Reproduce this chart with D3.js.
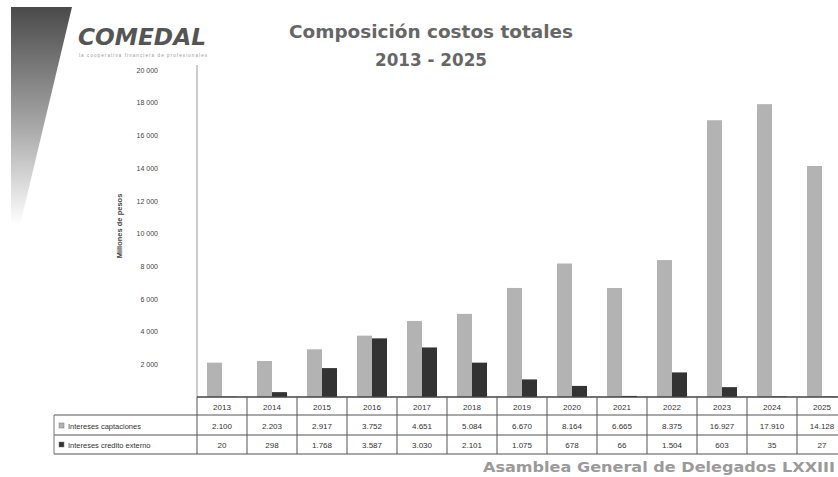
<!DOCTYPE html>
<html><head><meta charset="utf-8">
<script src="https://cdn.jsdelivr.net/npm/d3@7"></script>
<style>html,body{margin:0;padding:0;background:#fff;overflow:hidden}</style>
</head><body>
<svg id="c" width="838" height="477"></svg>
<script>
const years = ["2013","2014","2015","2016","2017","2018","2019","2020","2021","2022","2023","2024","2025"];
const captaciones = [2100,2203,2917,3752,4651,5084,6670,8164,6665,8375,16927,17910,14128];
const credito = [20,298,1768,3587,3030,2101,1075,678,66,1504,603,35,27];
const seriesNames = ["Intereses captaciones","Intereses credito externo"];
const yTicks = [2000,4000,6000,8000,10000,12000,14000,16000,18000,20000];

const svg = d3.select("#c");
const fmt = v => d3.format(",")(v).replace(/,/g,".");
const fmtTick = v => d3.format(",")(v).replace(/,/g," ");

// logo gradient shape
const defs = svg.append("defs");
const g1 = defs.append("linearGradient").attr("id","lg").attr("x1",0).attr("y1",0).attr("x2",0).attr("y2",1);
g1.append("stop").attr("offset","0%").attr("stop-color","#4a4a4a");
g1.append("stop").attr("offset","55%").attr("stop-color","#a8a8a8");
g1.append("stop").attr("offset","100%").attr("stop-color","#ffffff");
svg.append("path").attr("d","M11,7 L72,7 L20,225 L11,225 Z").attr("fill","url(#lg)");

svg.append("text").attr("x",78).attr("y",45).attr("font-family","DejaVu Sans")
  .attr("font-weight","bold").attr("font-style","italic").attr("font-size",23)
  .attr("fill","#555").attr("textLength",128).attr("lengthAdjust","spacingAndGlyphs").text("COMEDAL");
svg.append("text").attr("x",79).attr("y",57).attr("font-family","Liberation Sans")
  .attr("font-size",4.5).attr("fill","#999").attr("textLength",128).text("la cooperativa financiera de profesionales");

// title
svg.append("text").attr("x",431).attr("y",38).attr("text-anchor","middle").attr("font-family","DejaVu Sans")
  .attr("font-weight","bold").attr("font-size",18).attr("fill","#666")
  .attr("textLength",284).attr("lengthAdjust","spacingAndGlyphs").text("Composición costos totales");
svg.append("text").attr("x",431).attr("y",66).attr("text-anchor","middle").attr("font-family","DejaVu Sans")
  .attr("font-weight","bold").attr("font-size",18).attr("fill","#666")
  .attr("textLength",112).attr("lengthAdjust","spacingAndGlyphs").text("2013 - 2025");

// scales
const x0 = d3.scaleBand().domain(years).range([197,847]).paddingInner(0).paddingOuter(0);
const x1 = d3.scaleBand().domain(seriesNames).range([10,40]);
const y = d3.scaleLinear().domain([0,20000]).range([397,70]);
const colors = {"Intereses captaciones":"#b3b3b3","Intereses credito externo":"#333333"};

// y axis
const yAxis = d3.axisLeft(y).tickValues(yTicks).tickSize(0).tickPadding(39).tickFormat(fmtTick);
const ga = svg.append("g").attr("transform","translate(197,0)").call(yAxis);
ga.select(".domain").attr("stroke","#999").attr("d","M0,65V397");
ga.selectAll("text").attr("font-family","Liberation Sans").attr("font-size",7).attr("fill","#444");

svg.append("text").attr("transform","translate(122,226) rotate(-90)").attr("text-anchor","middle")
  .attr("font-family","Liberation Sans").attr("font-size",7.5).attr("font-weight","bold").attr("fill","#444").text("Millones de pesos");

// bars
const data = years.map((yr,i)=>({year:yr, vals:[{k:seriesNames[0],v:captaciones[i]},{k:seriesNames[1],v:credito[i]}]}));
const gg = svg.append("g");
gg.selectAll("g").data(data).join("g").attr("transform",d=>`translate(${x0(d.year)},0)`)
  .selectAll("rect").data(d=>d.vals).join("rect")
  .attr("x",d=>x1(d.k)).attr("width",x1.bandwidth())
  .attr("y",d=>y(d.v)).attr("height",d=>y(0)-y(d.v))
  .attr("fill",d=>colors[d.k]);

// data table
const rowY = [397,415,435,454];
const tg = svg.append("g").attr("font-family","Liberation Sans").attr("font-size",8).attr("fill","#333");
tg.append("line").attr("x1",197).attr("x2",847).attr("y1",rowY[0]).attr("y2",rowY[0]).attr("stroke","#444").attr("stroke-width",1.5);
[1,2,3].forEach(r=>{
  tg.append("line").attr("x1",54).attr("x2",847).attr("y1",rowY[r]).attr("y2",rowY[r]).attr("stroke","#555").attr("stroke-width",1);
});
tg.append("line").attr("x1",54).attr("x2",54).attr("y1",rowY[1]).attr("y2",rowY[3]).attr("stroke","#777");
years.forEach((yr,i)=>{
  const xl = x0(yr);
  tg.append("line").attr("x1",xl).attr("x2",xl).attr("y1",rowY[0]).attr("y2",rowY[3]).attr("stroke","#555");
  const cx = xl + x0.bandwidth()/2;
  tg.append("text").attr("x",cx).attr("y",410).attr("text-anchor","middle").text(yr);
  tg.append("text").attr("x",cx).attr("y",429).attr("text-anchor","middle").text(fmt(captaciones[i]));
  tg.append("text").attr("x",cx).attr("y",448).attr("text-anchor","middle").text(fmt(credito[i]));
});
[[seriesNames[0],429],[seriesNames[1],448]].forEach(([n,yy])=>{
  tg.append("rect").attr("x",59).attr("y",yy-6).attr("width",5).attr("height",5).attr("fill",colors[n]).attr("stroke","#777").attr("stroke-width",0.5);
  tg.append("text").attr("x",68).attr("y",yy).attr("font-size",7.5).text(n);
});

// footer
svg.append("text").attr("x",483).attr("y",472).attr("font-family","DejaVu Sans")
  .attr("font-weight","bold").attr("font-size",14).attr("fill","#9a9a9a")
  .attr("textLength",352).attr("lengthAdjust","spacingAndGlyphs").text("Asamblea General de Delegados LXXIII");
</script>
</body></html>
